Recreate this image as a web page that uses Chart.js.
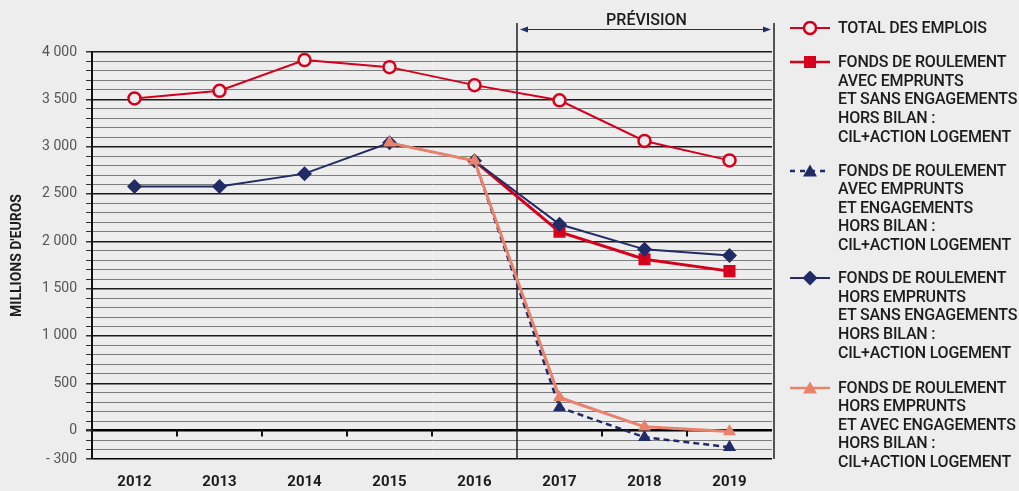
<!DOCTYPE html>
<html lang="fr">
<head>
<meta charset="utf-8">
<title>Emplois et fonds de roulement</title>
<script src="https://cdn.jsdelivr.net/npm/chart.js@4.4.1/dist/chart.umd.min.js"></script>
<style>
  html, body { margin: 0; padding: 0; background: #ededed; }
  #wrap { position: relative; width: 1019px; height: 491px; overflow: hidden; }
  #chart { position: absolute; left: 0; top: 0; }
  .item { position: absolute; left: 790px; font-family: Roboto, sans-serif; font-weight: 500;
          font-size: 16px; line-height: 18.6px; letter-spacing: -0.2px; color: #1c1c1c; white-space: nowrap; }
  .item svg { position: absolute; left: 0; top: 2px; }
  .item div { margin-left: 48px; }
</style>
</head>
<body>
<div id="wrap">
  <canvas id="chart" width="1019" height="491"></canvas>
  <div id="legend"></div>
</div>
<script>
const years = ['2012', '2013', '2014', '2015', '2016', '2017', '2018', '2019'];

const totalEmplois = [3510, 3590, 3915, 3840, 3650, 3490, 3060, 2855];
const frAvecEmpruntsSansEng = [null, null, null, null, 2850, 2100, 1810, 1685];
const frAvecEmpruntsAvecEng = [null, null, null, null, 2850, 245, -70, -175];
const frHorsEmpruntsSansEng = [2580, 2580, 2715, 3040, 2850, 2180, 1915, 1850];
const frHorsEmpruntsAvecEng = [null, null, null, 3040, 2850, 350, 40, -10];

const labeledTicks = [-300, 0, 500, 1000, 1500, 2000, 2500, 3000, 3500, 4000];

const legendLabels = [
    ['TOTAL DES EMPLOIS'],
    ['FONDS DE ROULEMENT', 'AVEC EMPRUNTS', 'ET SANS ENGAGEMENTS', 'HORS BILAN :', 'CIL+ACTION LOGEMENT'],
    ['FONDS DE ROULEMENT', 'AVEC EMPRUNTS', 'ET ENGAGEMENTS', 'HORS BILAN :', 'CIL+ACTION LOGEMENT'],
    ['FONDS DE ROULEMENT', 'HORS EMPRUNTS', 'ET SANS ENGAGEMENTS', 'HORS BILAN :', 'CIL+ACTION LOGEMENT'],
    ['FONDS DE ROULEMENT', 'HORS EMPRUNTS', 'ET AVEC ENGAGEMENTS', 'HORS BILAN :', 'CIL+ACTION LOGEMENT']
];

const RED = '#d6001c';
const NAVY = '#212b65';
const SALMON = '#e8826b';
const BG = '#ededed';

function fmt(v) {
    const s = String(Math.abs(v)).replace(/\B(?=(\d{3})+(?!\d))/g, ' ');
    return v < 0 ? '- ' + s : s;
}

// prévision bracket, vertical separators and the small ticks on the zero line
const decorations = {
    id: 'decorations',
    beforeDatasetsDraw(chart) {
        const { ctx, chartArea, scales: { x, y } } = chart;
        const xSplit = (x.getPixelForTick(4) + x.getPixelForTick(5)) / 2;
        const xRight = chartArea.right + 2;
        const y0 = y.getPixelForValue(0);
        ctx.save();
        ctx.strokeStyle = '#222';
        ctx.lineWidth = 1.5;
        ctx.beginPath();
        ctx.moveTo(xSplit, 23); ctx.lineTo(xSplit, chartArea.bottom);
        ctx.moveTo(xRight, 23); ctx.lineTo(xRight, chartArea.bottom);
        ctx.stroke();

        ctx.lineWidth = 2;
        ctx.strokeStyle = '#111';
        ctx.beginPath();
        for (let i = 0; i < years.length - 1; i++) {
            if (i === 4) continue;
            const bx = Math.round((x.getPixelForTick(i) + x.getPixelForTick(i + 1)) / 2);
            ctx.moveTo(bx, y0);
            ctx.lineTo(bx, y0 + 6);
        }
        ctx.stroke();
        ctx.restore();
    },
    afterDraw(chart) {
        const { ctx, chartArea, scales: { x } } = chart;
        const xSplit = (x.getPixelForTick(4) + x.getPixelForTick(5)) / 2;
        const xRight = chartArea.right + 2;
        const ay = 29.5;
        ctx.save();
        ctx.strokeStyle = NAVY;
        ctx.fillStyle = NAVY;
        ctx.lineWidth = 1.2;
        ctx.beginPath();
        ctx.moveTo(xSplit + 4, ay); ctx.lineTo(xRight - 4, ay);
        ctx.stroke();
        ctx.beginPath();
        ctx.moveTo(xSplit + 3, ay); ctx.lineTo(xSplit + 11, ay - 3); ctx.lineTo(xSplit + 11, ay + 3);
        ctx.closePath();
        ctx.moveTo(xRight - 3, ay); ctx.lineTo(xRight - 11, ay - 3); ctx.lineTo(xRight - 11, ay + 3);
        ctx.closePath();
        ctx.fill();

        ctx.fillStyle = '#1c1c1c';
        ctx.font = '500 16px Roboto, sans-serif';
        ctx.textAlign = 'center';
        ctx.textBaseline = 'middle';
        ctx.fillText('PRÉVISION', (xSplit + xRight) / 2 + 1, 21);
        ctx.restore();
    }
};

const ctx = document.getElementById('chart').getContext('2d');
const chart = new Chart(ctx, {
    type: 'line',
    data: {
        labels: years,
        datasets: [
            {
                label: 'TOTAL DES EMPLOIS',
                data: totalEmplois,
                borderColor: RED,
                borderWidth: 2,
                pointStyle: 'circle',
                pointRadius: 6,
                pointBorderWidth: 2.5,
                pointBorderColor: RED,
                pointBackgroundColor: BG,
                order: 0
            },
            {
                label: 'FR avec emprunts et sans engagements',
                data: frAvecEmpruntsSansEng,
                borderColor: RED,
                borderWidth: 3,
                pointStyle: 'rect',
                pointRadius: [0, 0, 0, 0, 0, 8.5, 8.5, 8.5],
                pointBorderWidth: 0,
                pointBackgroundColor: RED,
                order: 3
            },
            {
                label: 'FR avec emprunts et engagements',
                data: frAvecEmpruntsAvecEng,
                borderColor: NAVY,
                borderWidth: 2.5,
                borderDash: [6, 4],
                pointStyle: 'triangle',
                pointRadius: [0, 0, 0, 0, 0, 7.5, 7.5, 7.5],
                pointBorderWidth: 0,
                pointBackgroundColor: NAVY,
                order: 4
            },
            {
                label: 'FR hors emprunts et sans engagements',
                data: frHorsEmpruntsSansEng,
                borderColor: NAVY,
                borderWidth: 2,
                pointStyle: 'rectRot',
                pointRadius: 7.5,
                pointBorderWidth: 0,
                pointBackgroundColor: NAVY,
                order: 2
            },
            {
                label: 'FR hors emprunts et avec engagements',
                data: frHorsEmpruntsAvecEng,
                borderColor: SALMON,
                borderWidth: 3,
                pointStyle: 'triangle',
                pointRadius: 7.5,
                pointBorderWidth: 0,
                pointBackgroundColor: SALMON,
                order: 1
            }
        ]
    },
    options: {
        responsive: false,
        animation: false,
        layout: { padding: { left: 0, right: 247, top: 52, bottom: 0 } },
        elements: { line: { tension: 0 } },
        plugins: {
            legend: { display: false },
            tooltip: { enabled: false }
        },
        scales: {
            x: {
                offset: true,
                grid: { display: false, drawTicks: false },
                border: { display: false },
                ticks: {
                    color: '#1c1c1c',
                    font: { family: 'Roboto', size: 15, weight: 'bold' },
                    padding: 14,
                    maxRotation: 0
                },
                afterFit(s) { s.height = 32; }
            },
            y: {
                min: -300,
                max: 4000,
                ticks: {
                    stepSize: 100,
                    autoSkip: false,
                    padding: 9,
                    color: '#555',
                    font: { family: 'Roboto', size: 14 },
                    callback: v => labeledTicks.includes(v) ? fmt(v) : ''
                },
                grid: {
                    tickLength: 6,
                    tickColor: '#333',
                    color: c => {
                        const v = c.tick.value;
                        if (v === 0 || v === -300) return '#000';
                        return v % 500 === 0 ? '#1a1a1a' : '#7d7d7d';
                    },
                    lineWidth: c => {
                        const v = c.tick.value;
                        if (v === 0) return 2.5;
                        return (v % 500 === 0 || v === -300) ? 1.5 : 1;
                    }
                },
                border: { display: true, color: '#111', width: 2 },
                title: {
                    display: true,
                    text: "MILLIONS D'EUROS",
                    color: '#1c1c1c',
                    font: { family: 'Roboto', size: 14, weight: 'bold' },
                    padding: { top: 9, bottom: 0 }
                },
                afterFit(s) { s.width = 92; }
            }
        }
    },
    plugins: [decorations]
});

// legend built from the datasets' styles
const legendTops = [19.4, 53.2, 161.6, 269.2, 378.6];
const symbols = [
    `<line x1="0" y1="7" x2="40" y2="7" stroke="${RED}" stroke-width="2"/>
     <circle cx="20" cy="7" r="6" fill="${BG}" stroke="${RED}" stroke-width="2.5"/>`,
    `<line x1="0" y1="7" x2="40" y2="7" stroke="${RED}" stroke-width="2.5"/>
     <rect x="14" y="1" width="12" height="12" fill="${RED}"/>`,
    `<line x1="0" y1="7" x2="40" y2="7" stroke="${NAVY}" stroke-width="2.5" stroke-dasharray="5 5"/>
     <polygon points="20,0.5 27,12.5 13,12.5" fill="${NAVY}"/>`,
    `<line x1="0" y1="7" x2="40" y2="7" stroke="${NAVY}" stroke-width="2"/>
     <polygon points="20,-0.5 27.5,7 20,14.5 12.5,7" fill="${NAVY}"/>`,
    `<line x1="0" y1="7" x2="40" y2="7" stroke="${SALMON}" stroke-width="2.5"/>
     <polygon points="20,0.5 27,12.5 13,12.5" fill="${SALMON}"/>`
];
const legend = document.getElementById('legend');
legendLabels.forEach((lines, i) => {
    const el = document.createElement('div');
    el.className = 'item';
    el.style.top = legendTops[i] + 'px';
    el.innerHTML = `<svg width="40" height="15" viewBox="0 0 40 15">${symbols[i]}</svg>` +
        `<div>${lines.join('<br>')}</div>`;
    legend.appendChild(el);
});
</script>
</body>
</html>
